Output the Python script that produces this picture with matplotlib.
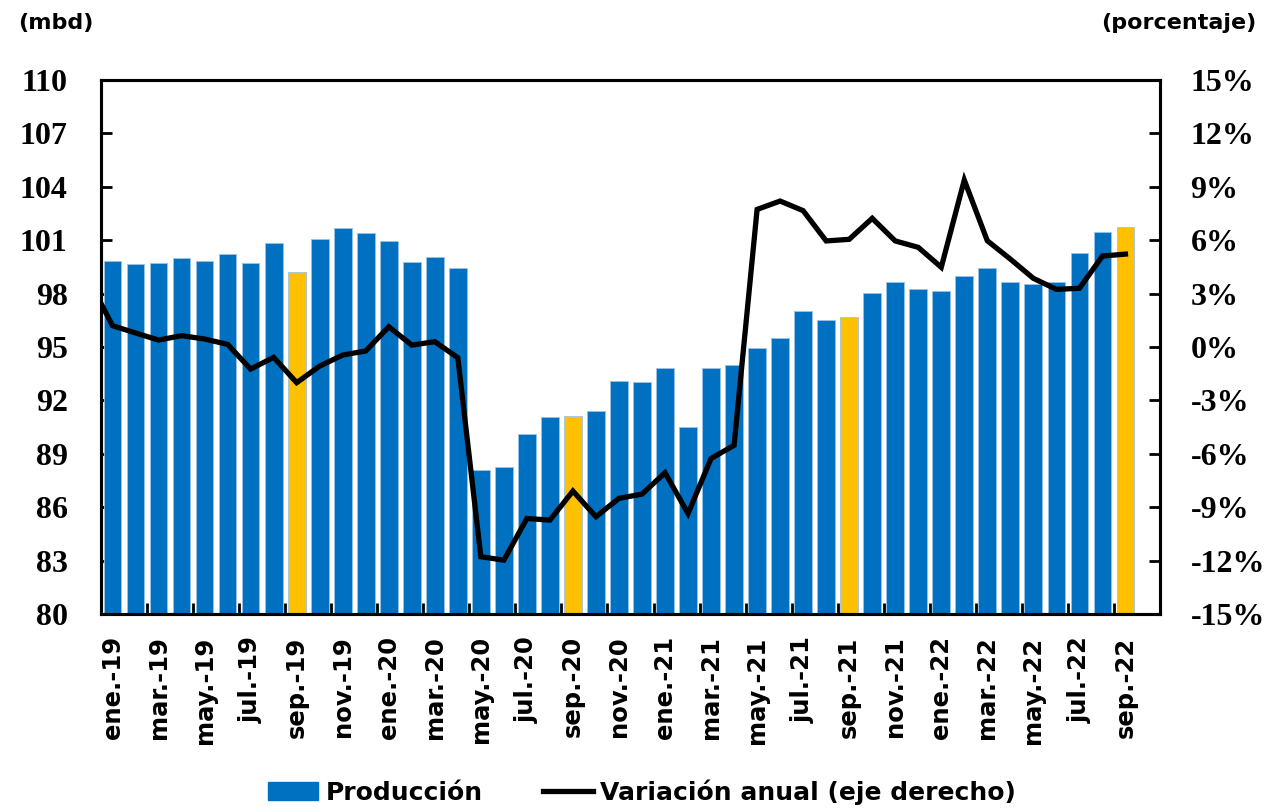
import matplotlib.pyplot as plt
import numpy as np
from matplotlib.patches import Patch
from matplotlib.lines import Line2D

meses = ['ene.', 'feb.', 'mar.', 'abr.', 'may.', 'jun.', 'jul.', 'ago.', 'sep.', 'oct.', 'nov.', 'dic.']
etiquetas = [m + '-' + a for a in ['19', '20', '21', '22'] for m in meses][:45]

produccion = [99.85, 99.66, 99.72, 100.0, 99.85, 100.2, 99.72, 100.86, 99.2, 101.05,
              101.7, 101.4, 100.97, 99.8, 100.06, 99.42, 88.1, 88.26, 90.1, 91.05,
              91.12, 91.42, 93.09, 93.05, 93.84, 90.5, 93.82, 93.97, 94.93, 95.5,
              97.0, 96.5, 96.69, 98.03, 98.65, 98.28, 98.13, 98.99, 99.44, 98.67,
              98.56, 98.65, 100.26, 101.46, 101.74]

# variacion anual (%); first value is dic.-18, partly outside the plot
variacion = [3.7, 1.2, 0.79, 0.39, 0.64, 0.45, 0.15, -1.24, -0.58, -2.0, -1.07,
             -0.45, -0.22, 1.14, 0.11, 0.30, -0.60, -11.78, -11.97, -9.63, -9.72,
             -8.09, -9.53, -8.5, -8.26, -7.06, -9.35, -6.26, -5.52, 7.73, 8.2,
             7.66, 5.96, 6.05, 7.23, 5.96, 5.6, 4.48, 9.38, 5.97, 4.94, 3.86,
             3.24, 3.3, 5.11, 5.22]

destacados = ['sep.-19', 'sep.-20', 'sep.-21', 'sep.-22']

azul = '#0070C0'
amarillo = '#FFC000'
colores = [amarillo if e in destacados else azul for e in etiquetas]

fig = plt.figure(figsize=(12.64, 8.08), dpi=100)
ax = fig.add_axes([0.0799, 0.240, 0.8378, 0.661])
ax2 = ax.twinx()

x = np.arange(len(produccion))
ax.bar(x, produccion, width=0.77, color=colores, edgecolor='#9cc3e6', linewidth=0.6, zorder=2)
xl = np.arange(-1, len(produccion))
ax2.plot(xl, variacion, color='black', lw=3.8, zorder=3, solid_joinstyle='miter')

ax.set_xlim(-0.5, 45.5)
ax.set_ylim(80, 110)
ax2.set_ylim(-15, 15)

ax.set_yticks(np.arange(80, 111, 3))
ax2.set_yticks(np.arange(-15, 16, 3))
ax2.set_yticklabels([f'{v}%' for v in range(-15, 16, 3)])

ax.set_xticks(x[::2])
ax.set_xticklabels(etiquetas[::2], rotation=90)
ax.set_xticks(np.arange(1.5, 45, 2), minor=True)
ax.tick_params(axis='x', which='major', length=0, pad=16)
ax.tick_params(axis='x', which='minor', direction='in', length=8, width=2)
for lab in ax.get_xticklabels():
    lab.set_fontfamily('DejaVu Sans')
    lab.set_fontweight('bold')
    lab.set_fontsize(17.5)

ax.tick_params(axis='y', direction='in', length=8, width=2, pad=24)
ax2.tick_params(axis='y', direction='in', length=8, width=2, pad=22)
for lab in ax.get_yticklabels() + ax2.get_yticklabels():
    lab.set_fontfamily('Liberation Serif')
    lab.set_fontweight('bold')
    lab.set_fontsize(23)

for a in (ax, ax2):
    for s in a.spines.values():
        s.set_linewidth(2.2)

fig.text(0.014, 0.972, '(mbd)', fontsize=16, fontweight='bold',
         family='DejaVu Sans', ha='left', va='center')
fig.text(0.994, 0.972, '(porcentaje)', fontsize=16, fontweight='bold',
         family='DejaVu Sans', ha='right', va='center')

handles = [Patch(facecolor=azul, edgecolor=azul),
           Line2D([0], [0], color='black', lw=3.8)]
fig.legend(handles, ['Producción', 'Variación anual (eje derecho)'],
           loc='center', bbox_to_anchor=(0.508, 0.02), ncol=2, frameon=False,
           prop={'family': 'DejaVu Sans', 'weight': 'bold', 'size': 18},
           handlelength=2.0, handletextpad=0.3, columnspacing=2.4)

fig.savefig('out.png', dpi=100)
